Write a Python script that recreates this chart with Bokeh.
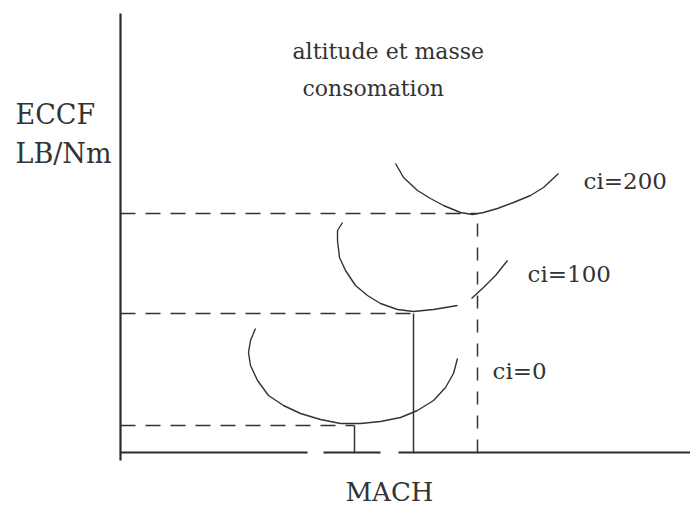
from bokeh.plotting import figure
from bokeh.models import Range1d
from bokeh.embed import file_html
from bokeh.resources import INLINE
from bokeh.core.properties import value

# Schematic units: x = Mach (from the vertical axis), y = ECCF (above the Mach axis)
cost_index = ["ci=0", "ci=100", "ci=200"]

# ECCF curves, one per cost index
ci0_mach = [135, 130, 128, 130, 137, 148, 163, 180, 200, 220, 240, 260, 280, 297, 313, 325, 333, 337]
ci0_eccf = [124, 112, 100, 87, 72, 57, 47, 39, 33, 29, 29, 31, 35, 42, 52, 65, 79, 94]

ci100_mach_a = [222, 217, 217, 219, 225, 235, 247, 260, 277, 293, 313, 337]
ci100_eccf_a = [230, 222, 212, 195, 182, 167, 157, 149, 143, 141, 143, 147]
ci100_mach_b = [351, 363, 375, 387]
ci100_eccf_b = [154, 165, 177, 192]

ci200_mach = [275, 283, 297, 310, 323, 340, 352, 363, 377, 393, 410, 423, 438]
ci200_eccf = [289, 275, 262, 254, 247, 240, 238, 240, 244, 250, 257, 265, 279]

# Optimum point of each curve (minimum ECCF)
opt_mach = [234, 293, 357]
opt_eccf = [27, 139, 239]

# Axis strokes (the Mach axis is broken in two places)
mach_axis_x = [[0, 187], [203, 260], [278, 570]]
eccf_axis_y = [-8, 439]

INK = "#333333"
FONT = value("DejaVu Serif")

p = figure(width=690, height=506, output_backend="svg", toolbar_location=None,
           x_range=Range1d(-120, 570), y_range=Range1d(-54, 452),
           min_border=0, outline_line_color=None, background_fill_color="white")
p.axis.visible = False
p.grid.visible = False

# axes
p.line([0, 0], eccf_axis_y, line_color="#2a2a2a", line_width=2.2)
p.multi_line(mach_axis_x, [[0, 0]] * len(mach_axis_x), line_color="#2a2a2a", line_width=2.2)

# horizontal dashed guides from the ECCF axis to each optimum
p.multi_line([[0, m] for m in opt_mach], [[e, e] for e in opt_eccf],
             line_color=INK, line_width=1.5, line_dash="15 10")

# drops from the optimum to the Mach axis
p.multi_line([[opt_mach[0]] * 2, [opt_mach[1]] * 2], [[0, opt_eccf[0]], [0, opt_eccf[1]]],
             line_color=INK, line_width=1.5)
p.line([opt_mach[2]] * 2, [0, opt_eccf[2]], line_color=INK, line_width=1.5, line_dash="13 11")

# curves
p.line(ci0_mach, ci0_eccf, line_color=INK, line_width=1.4)
p.line(ci100_mach_a, ci100_eccf_a, line_color=INK, line_width=1.4)
p.line(ci100_mach_b, ci100_eccf_b, line_color=INK, line_width=1.4)
p.line(ci200_mach, ci200_eccf, line_color=INK, line_width=1.4)

# curve labels, next to the right end of each curve
ends_x = [ci0_mach[-1], ci100_mach_b[-1], ci200_mach[-1]]
ends_y = [ci0_eccf[-1], ci100_eccf_b[-1], ci200_eccf[-1]]
for lab, ex, ey, dx, dy in zip(cost_index, ends_x, ends_y, [35, 20, 25], [-12, -13, -7]):
    p.text([ex + dx], [ey + dy], text=[lab], text_font=FONT, text_font_size="23px",
           text_color=INK, text_baseline="alphabetic", text_align="left")

# titles
p.text([172], [401], text=["altitude et masse"], text_font=FONT, text_font_size="22px",
       text_color=INK, text_baseline="alphabetic")
p.text([182], [364], text=["consomation"], text_font=FONT, text_font_size="22px",
       text_color=INK, text_baseline="alphabetic")
p.text([-105, -105], [338, 299], text=["ECCF", "LB/Nm"], text_font=FONT, text_font_size="27px",
       text_color=INK, text_baseline="alphabetic")
p.text([225], [-39], text=["MACH"], text_font=FONT, text_font_size="26px",
       text_color=INK, text_baseline="alphabetic")

open("out.html", "w").write(file_html(p, INLINE))
